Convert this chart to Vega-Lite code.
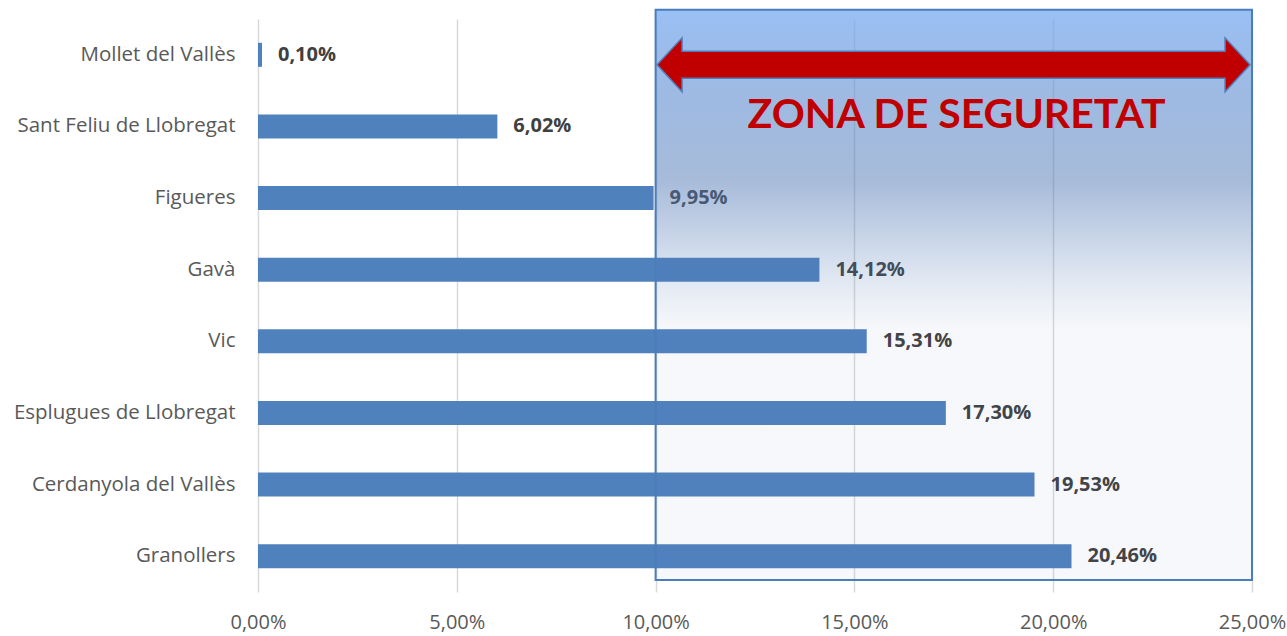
{
  "$schema": "https://vega.github.io/schema/vega-lite/v6.json",
  "width": 994,
  "height": 573,
  "autosize": "none",
  "padding": {"left": 258, "top": 19, "right": 35, "bottom": 44},
  "background": "white",
  "config": {
    "view": {"stroke": null},
    "font": "Open Sans",
    "locale": {"number": {"decimal": ",", "thousands": ".", "grouping": [3], "currency": ["", " €"]}}
  },
  "datasets": {
    "bars": [
      {"city": "Mollet del Vallès", "pct": 0.0010},
      {"city": "Sant Feliu de Llobregat", "pct": 0.0602},
      {"city": "Figueres", "pct": 0.0995},
      {"city": "Gavà", "pct": 0.1412},
      {"city": "Vic", "pct": 0.1531},
      {"city": "Esplugues de Llobregat", "pct": 0.1730},
      {"city": "Cerdanyola del Vallès", "pct": 0.1953},
      {"city": "Granollers", "pct": 0.2046}
    ],
    "zone": [{"x": 0.10, "x2": 0.25, "v": 101.6, "v2": 2.1}],
    "arrow": [{"x": 0.17494, "v": 92.0}],
    "caption": [{"x": 0.1757, "v": 83.0, "label": "ZONA DE SEGURETAT"}]
  },
  "layer": [
    {
      "data": {"name": "bars"},
      "encoding": {
        "y": {
          "field": "city", "type": "nominal", "sort": null,
          "scale": {"paddingInner": 0.665, "paddingOuter": 0.3325},
          "axis": {"title": null, "domain": false, "ticks": false, "labelFontSize": 20.5, "labelColor": "#595959", "labelPadding": 23, "labelLimit": 400, "labelFont": "Open Sans"}
        },
        "x": {
          "field": "pct", "type": "quantitative",
          "scale": {"domain": [0, 0.25], "nice": false},
          "axis": {"title": null, "values": [0, 0.05, 0.1, 0.15, 0.2, 0.25], "format": ".2%", "domain": false, "grid": true, "gridColor": "#d9d9d9", "gridWidth": 1.5, "ticks": false, "labelFlush": false, "labelFontSize": 20, "labelColor": "#595959", "labelPadding": 20, "labelFont": "Open Sans"}
        }
      },
      "layer": [
        {"mark": {"type": "bar", "color": "#4f81bd"}},
        {
          "mark": {"type": "text", "align": "left", "baseline": "middle", "dx": 16, "fontSize": 20, "fontWeight": "bold", "color": "#404040", "font": "Open Sans"},
          "encoding": {"text": {"field": "pct", "type": "quantitative", "format": ".2%"}}
        }
      ]
    },
    {
      "layer": [
        {
          "data": {"name": "zone"},
          "mark": {
            "type": "rect",
            "stroke": "#4a7ebb",
            "strokeWidth": 2,
            "fill": {
              "gradient": "linear", "x1": 0, "y1": 0, "x2": 0, "y2": 1,
              "stops": [
                {"offset": 0, "color": "rgba(120,170,240,0.75)"},
                {"offset": 0.3, "color": "rgba(80,120,180,0.5)"},
                {"offset": 0.48, "color": "rgba(80,120,180,0.16)"},
                {"offset": 0.56, "color": "rgba(100,130,180,0.06)"},
                {"offset": 1, "color": "rgba(100,130,180,0.06)"}
              ]
            }
          },
          "encoding": {
            "x": {"field": "x", "type": "quantitative"},
            "x2": {"field": "x2"},
            "y": {"field": "v", "type": "quantitative", "scale": {"domain": [0, 100], "nice": false, "zero": false}, "axis": null},
            "y2": {"field": "v2"}
          }
        },
        {
          "data": {"name": "arrow"},
          "mark": {
            "type": "point", "filled": true, "fill": "#c00000", "opacity": 1,
            "size": 351649,
            "shape": "M-1,0 L-0.9157,-0.0911 L-0.9157,-0.0455 L0.9157,-0.0455 L0.9157,-0.0911 L1,0 L0.9157,0.0911 L0.9157,0.0455 L-0.9157,0.0455 L-0.9157,0.0911 Z",
            "stroke": "#4f7fbd", "strokeWidth": 1.5, "strokeOpacity": 1
          },
          "encoding": {
            "x": {"field": "x", "type": "quantitative"},
            "y": {"field": "v", "type": "quantitative"}
          }
        },
        {
          "data": {"name": "caption"},
          "mark": {"type": "text", "align": "center", "baseline": "middle", "fontSize": 41, "fontWeight": "bold", "color": "#c00000", "font": "Lato"},
          "encoding": {
            "x": {"field": "x", "type": "quantitative"},
            "y": {"field": "v", "type": "quantitative"},
            "text": {"field": "label"}
          }
        }
      ]
    }
  ],
  "resolve": {"scale": {"y": "independent"}, "axis": {"y": "independent"}}
}
